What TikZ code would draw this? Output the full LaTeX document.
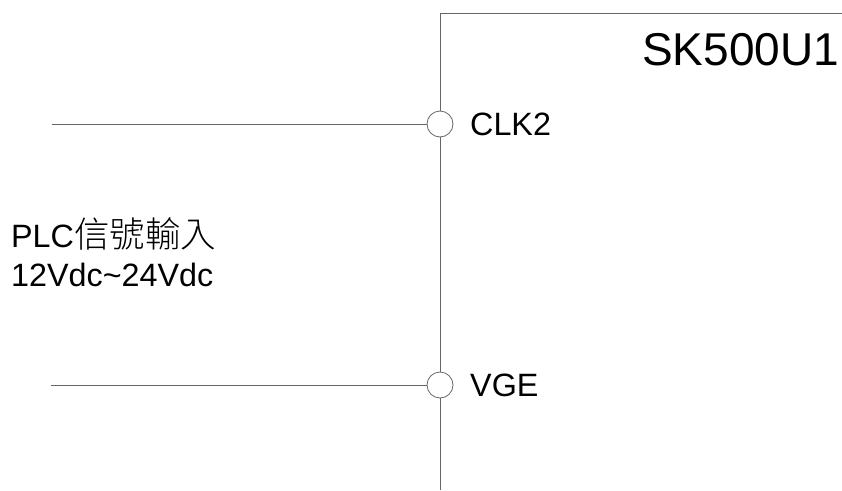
\documentclass[tikz,border=0pt]{standalone}
\usepackage{fontspec}
\setmainfont{Liberation Sans}
\newfontfamily\cjk{Noto Sans CJK TC Light}
\tikzset{wire/.style={draw=black!60,line width=0.8pt},
term/.style={circle,draw=black!60,line width=0.8pt,fill=white,minimum size=26pt,inner sep=0pt},
lbl/.style={inner sep=0pt,anchor=base west,text=black}}
\begin{document}
\begin{tikzpicture}[x=1pt,y=-1pt,font=\fontsize{32.3}{38}\selectfont]
\useasboundingbox (0,0) rectangle (842,490);
\coordinate (top) at (842,13);
\coordinate (corner) at (440,13);
\coordinate (bot) at (440,490);
\coordinate (l1) at (52,124);
\coordinate (l2) at (51,385);
\draw[wire] (top) -- (corner) -- (bot);
\node[term] (clk) at (440,124) {};
\node[term] (vge) at (440,385) {};
\draw[wire] (l1) -- (clk);
\draw[wire] (l2) -- (vge);
\node[lbl] (tclk) at (470,135) {CLK2};
\node[lbl] (tvge) at (470,396) {VGE};
\node[lbl,font=\fontsize{46}{54}\selectfont] (tsk) at (642,65) {SK500U1};
\node[lbl] (t1) at (11,247) {PLC{\cjk\fontsize{35.5}{38}\selectfont 信號輸入}};
\node[lbl] (t2) at (11,286) {12Vdc\textasciitilde24Vdc};
\end{tikzpicture}
\end{document}
